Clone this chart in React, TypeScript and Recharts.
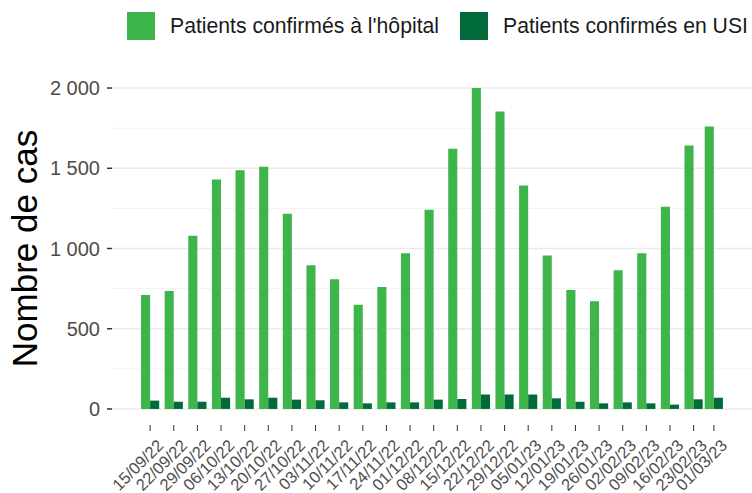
import React from 'react';
import { BarChart, Bar, XAxis, YAxis, CartesianGrid } from 'recharts';

// Weekly dates (dd/mm/yy)
const dates = [
  '15/09/22', '22/09/22', '29/09/22', '06/10/22', '13/10/22', '20/10/22', '27/10/22',
  '03/11/22', '10/11/22', '17/11/22', '24/11/22', '01/12/22', '08/12/22', '15/12/22',
  '22/12/22', '29/12/22', '05/01/23', '12/01/23', '19/01/23', '26/01/23', '02/02/23',
  '09/02/23', '16/02/23', '23/02/23', '01/03/23',
];

const hospital = [
  710, 735, 1080, 1430, 1488, 1509, 1216, 895, 808, 650, 760, 971, 1241,
  1621, 2000, 1854, 1393, 957, 741, 672, 864, 971, 1260, 1642, 1760,
];

const icu = [
  52, 45, 45, 70, 60, 70, 58, 54, 41, 35, 41, 41, 58,
  62, 90, 90, 90, 66, 45, 35, 41, 35, 27, 60, 70,
];

const yTicks = [0, 500, 1000, 1500, 2000];
const yMinor = [250, 750, 1250, 1750];

const series = [
  { key: 'hospital', name: "Patients confirmés à l'hôpital", color: '#3db54a' },
  { key: 'icu', name: 'Patients confirmés en USI', color: '#006b38' },
];

const legendLeft = [127, 460];

const FONT = '"Liberation Sans", Arial, sans-serif';

// days since the first date
const dayOf = (s: string) => {
  const [d, m, y] = s.split('/').map(Number);
  return (Date.UTC(2000 + y, m - 1, d) - Date.UTC(2022, 8, 15)) / 86400000;
};

const data = dates.map((d, i) => ({
  day: dayOf(d),
  label: d,
  hospital: hospital[i],
  icu: icu[i],
}));

const labelByDay = new Map(data.map(d => [d.day, d.label]));

const fmtThousands = (v: number) =>
  v >= 1000 ? `${Math.floor(v / 1000)} ${String(v % 1000).padStart(3, '0')}` : String(v);

const XTick = ({ x, y, payload }: any) => (
  <g transform={`translate(${x + 6},${y + 5})`}>
    <text
      x={0}
      y={0}
      dy="0.72em"
      textAnchor="end"
      transform="rotate(-45)"
      fontSize={16.5}
      fontFamily={FONT}
      fill="#4d4d4d"
    >
      {labelByDay.get(payload.value)}
    </text>
  </g>
);

const YTitle = ({ viewBox }: any) => {
  const cx = 37;
  const cy = viewBox.y + viewBox.height / 2;
  return (
    <text
      x={cx}
      y={cy}
      transform={`rotate(-90, ${cx}, ${cy})`}
      textAnchor="middle"
      fontSize={35}
      fontFamily={FONT}
      fill="#000"
    >
      Nombre de cas
    </text>
  );
};

export default function App() {
  return (
    <div style={{ position: 'absolute', left: 0, top: 0, width: 752, height: 493, background: '#fff' }}>
      {series.map((s, i) => (
        <div
          key={s.key}
          style={{
            position: 'absolute',
            left: legendLeft[i],
            top: 12,
            display: 'flex',
            alignItems: 'center',
            fontFamily: FONT,
            fontSize: 21.2,
            color: '#1a1a1a',
            whiteSpace: 'nowrap',
          }}
        >
          <div style={{ width: 28, height: 28, background: s.color, marginRight: 15 }} />
          <span>{s.name}</span>
        </div>
      ))}
      <BarChart
        width={752}
        height={493}
        data={data}
        margin={{ top: 72, right: 0, left: 0, bottom: 0 }}
        barGap={0}
      >
        {/* minor grid on a hidden axis, major grid on the visible one */}
        <CartesianGrid yAxisId="minor" vertical={false} syncWithTicks stroke="#f3f3f3" strokeWidth={1} />
        <CartesianGrid yAxisId="main" vertical={false} syncWithTicks stroke="#ebebeb" strokeWidth={1.5} />
        <XAxis
          type="number"
          dataKey="day"
          domain={[-11.3, 178.3]}
          allowDataOverflow
          ticks={data.map(d => d.day)}
          interval={0}
          axisLine={false}
          tickSize={6}
          tickLine={{ stroke: '#333', strokeWidth: 1 }}
          height={68}
          tick={<XTick />}
        />
        <YAxis
          yAxisId="minor"
          type="number"
          domain={[-100, 2100]}
          allowDataOverflow
          ticks={yMinor}
          interval={0}
          width={0}
          hide
        />
        <YAxis
          yAxisId="main"
          type="number"
          domain={[-100, 2100]}
          allowDataOverflow
          ticks={yTicks}
          interval={0}
          width={112}
          axisLine={false}
          tickSize={5}
          tickMargin={7}
          tickLine={{ stroke: '#333', strokeWidth: 1.5 }}
          tickFormatter={fmtThousands}
          tick={{ fontSize: 20, fontFamily: FONT, fill: '#4d4d4d' }}
          label={{ content: <YTitle /> }}
        />
        {series.map(s => (
          <Bar
            key={s.key}
            yAxisId="main"
            dataKey={s.key}
            name={s.name}
            fill={s.color}
            barSize={9.1}
            isAnimationActive={false}
          />
        ))}
      </BarChart>
    </div>
  );
}
